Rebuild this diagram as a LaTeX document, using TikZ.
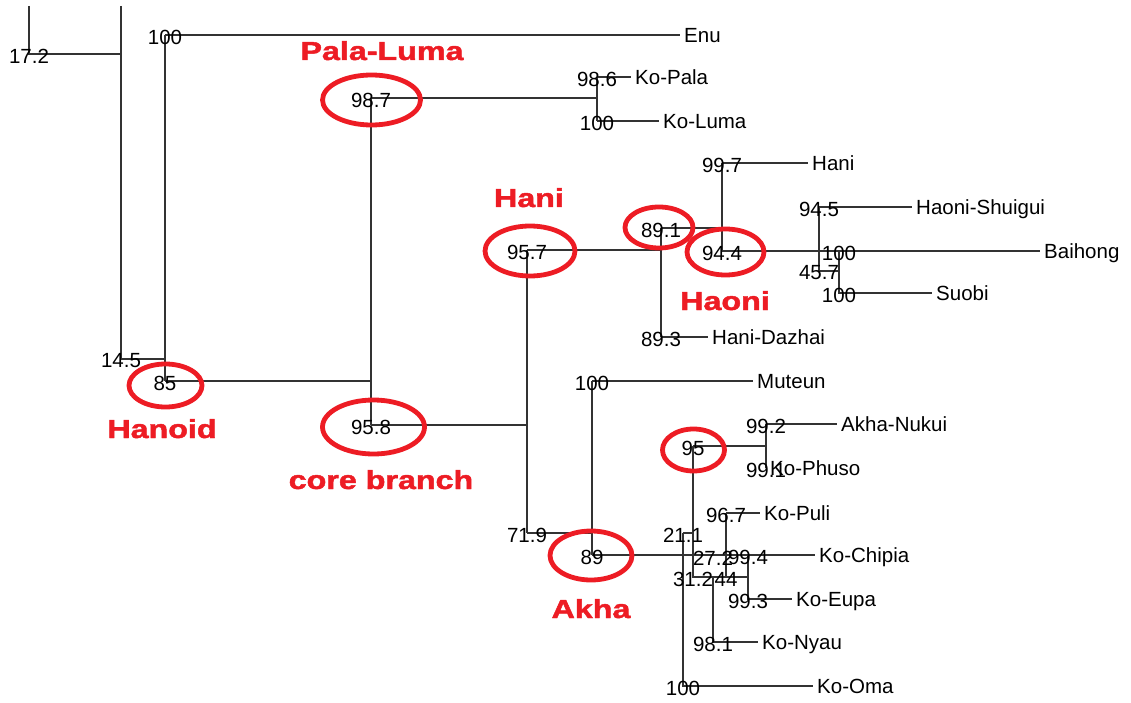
\documentclass[tikz,border=0pt]{standalone}
\usepackage{fontspec}
\setmainfont{Liberation Sans}
\newfontfamily\rfam[FakeBold=1.6]{Liberation Sans Bold}
\usetikzlibrary{shapes.geometric}
\definecolor{redc}{RGB}{237,28,36}
\newcommand{\lfont}{\fontsize{20.5}{24}\selectfont}
\newcommand{\rfont}{\rfam\fontsize{26}{30}\selectfont}
\newcommand{\rlab}[1]{\scalebox{1.24}[1]{#1}}
\begin{document}
\begin{tikzpicture}[x=1pt,y=-1pt,
  br/.style={line width=1.1pt, draw=black!80},
  num/.style={font=\lfont, inner sep=0pt, anchor=center, yshift=-2pt},
  leaf/.style={font=\lfont, inner sep=0pt, anchor=base west, xshift=4pt, yshift=-7.5pt},
  ring/.style={draw=redc, line width=4.8pt, ellipse, inner sep=0pt},
  rtext/.style={font=\rfont, text=redc, inner sep=0pt, anchor=base}
]
\useasboundingbox (0,0) rectangle (1131,703);
% ---- coordinates ----
\coordinate (t1) at (29,6);   \coordinate (n172) at (29,54);
\coordinate (t2) at (121,6);  \coordinate (j172) at (121,54);
\coordinate (n145) at (121,359); \coordinate (j145) at (165,359);
\coordinate (n100a) at (165,35); \coordinate (enu) at (680,35);
\coordinate (n85) at (165,381);  \coordinate (j85) at (371,381);
\coordinate (n987) at (371,98);  \coordinate (n958) at (371,425);
\coordinate (j987) at (597,98);  \coordinate (n986) at (597,77); \coordinate (n100b) at (597,121);
\coordinate (kopala) at (631,77); \coordinate (koluma) at (659,121);
\coordinate (j958) at (527,425); \coordinate (n957) at (527,250); \coordinate (n719) at (527,533);
\coordinate (j957) at (661,250); \coordinate (n891) at (661,228); \coordinate (n893) at (661,337);
\coordinate (dazhai) at (708,337);
\coordinate (j891) at (722,228); \coordinate (n997) at (722,163); \coordinate (n944) at (722,251);
\coordinate (hani) at (808,163);
\coordinate (j944) at (819,251); \coordinate (n945) at (819,207); \coordinate (n457) at (819,271);
\coordinate (shui) at (912,207); \coordinate (j457) at (839,271);
\coordinate (n100c) at (839,251); \coordinate (bai) at (1040,251);
\coordinate (n100d) at (839,293); \coordinate (suobi) at (932,293);
\coordinate (j719) at (592,533); \coordinate (n100m) at (592,381); \coordinate (muteun) at (753,381);
\coordinate (n89) at (592,555); \coordinate (j89) at (683,555); \coordinate (chipia) at (815,555);
\coordinate (n211) at (683,533); \coordinate (n100o) at (683,686); \coordinate (koma) at (813,686);
\coordinate (j211) at (693,533); \coordinate (n95) at (693,446); \coordinate (n312) at (693,577);
\coordinate (j95) at (766,446); \coordinate (n992) at (766,424); \coordinate (n991) at (766,468);
\coordinate (nukui) at (837,424);
\coordinate (n44) at (726,577); \coordinate (n967) at (726,513); \coordinate (puli) at (760,513);
\coordinate (j312) at (713,577); \coordinate (n981) at (713,642); \coordinate (nyau) at (758,642);
\coordinate (j44) at (748,577); \coordinate (n994) at (748,555); \coordinate (n993) at (748,599);
\coordinate (eupa) at (792,599);
\coordinate (n272) at (713,556);
% ---- branches ----
\draw[br] (t1) -- (n172) -- (j172);
\draw[br] (t2) -- (n145) -- (j145);
\draw[br] (n100a) -- (n85);
\draw[br] (n100a) -- (enu);
\draw[br] (n85) -- (j85);
\draw[br] (n987) -- (n958);
\draw[br] (n987) -- (j987);
\draw[br] (n986) -- (n100b);
\draw[br] (n986) -- (kopala);
\draw[br] (n100b) -- (koluma);
\draw[br] (n958) -- (j958);
\draw[br] (n957) -- (n719);
\draw[br] (n957) -- (j957);
\draw[br] (n891) -- (n893);
\draw[br] (n893) -- (dazhai);
\draw[br] (n891) -- (j891);
\draw[br] (n997) -- (n944);
\draw[br] (n997) -- (hani);
\draw[br] (n944) -- (bai);
\draw[br] (n945) -- (n457) -- (j457);
\draw[br] (n945) -- (shui);
\draw[br] (n100c) -- (n100d) -- (suobi);
\draw[br] (n719) -- (j719);
\draw[br] (n100m) -- (n89);
\draw[br] (n100m) -- (muteun);
\draw[br] (n89) -- (chipia);
\draw[br] (n211) -- (n100o) -- (koma);
\draw[br] (n211) -- (j211);
\draw[br] (n95) -- (n312) -- (j44);
\draw[br] (n95) -- (j95);
\draw[br] (n992) -- (n991);
\draw[br] (n992) -- (nukui);
\draw[br] (n967) -- (n44);
\draw[br] (n967) -- (puli);
\draw[br] (j312) -- (n981) -- (nyau);
\draw[br] (n994) -- (n993) -- (eupa);
% ---- support values ----
\node[num] at (n172) {17.2};
\node[num] at (n145) {14.5};
\node[num] at (n100a) {100};
\node[num] at (n85) {85};
\node[num] at (n987) {98.7};
\node[num] at (n958) {95.8};
\node[num] at (n986) {98.6};
\node[num] at (n100b) {100};
\node[num] at (n957) {95.7};
\node[num] at (n719) {71.9};
\node[num] at (n891) {89.1};
\node[num] at (n893) {89.3};
\node[num] at (n997) {99.7};
\node[num] at (n944) {94.4};
\node[num] at (n945) {94.5};
\node[num] at (n100c) {100};
\node[num] at (n457) {45.7};
\node[num] at (n100d) {100};
\node[num] at (n100m) {100};
\node[num] at (n89) {89};
\node[num] at (n95) {95};
\node[num] at (n992) {99.2};
\node[num] at (n991) {99.1};
\node[num] at (n967) {96.7};
\node[num] at (n211) {21.1};
\node[num] at (n272) {27.2};
\node[num] at (n994) {99.4};
\node[num] at (n312) {31.2};
\node[num] at (n44) {44};
\node[num] at (n993) {99.3};
\node[num] at (n981) {98.1};
\node[num] at (n100o) {100};
% ---- leaves ----
\node[leaf] (Lenu) at (enu) {Enu};
\node[leaf] (Lpala) at (kopala) {Ko-Pala};
\node[leaf] (Lluma) at (koluma) {Ko-Luma};
\node[leaf] (Lhani) at (hani) {Hani};
\node[leaf] (Lshui) at (shui) {Haoni-Shuigui};
\node[leaf] (Lbai) at (bai) {Baihong};
\node[leaf] (Lsuobi) at (suobi) {Suobi};
\node[leaf] (Ldazhai) at (dazhai) {Hani-Dazhai};
\node[leaf] (Lmuteun) at (muteun) {Muteun};
\node[leaf] (Lnukui) at (nukui) {Akha-Nukui};
\node[leaf, xshift=0pt] (Lphuso) at (n991) {Ko-Phuso};
\node[leaf] (Lpuli) at (puli) {Ko-Puli};
\node[leaf] (Lchipia) at (chipia) {Ko-Chipia};
\node[leaf] (Leupa) at (eupa) {Ko-Eupa};
\node[leaf] (Lnyau) at (nyau) {Ko-Nyau};
\node[leaf] (Loma) at (koma) {Ko-Oma};
% ---- red highlights ----
\node[ring, minimum width=98pt, minimum height=50pt] (e987) at (371.5,100) {};
\node[ring, minimum width=90pt, minimum height=50pt] (e957) at (530,251) {};
\node[ring, minimum width=68pt, minimum height=41pt] (e891) at (659,227.5) {};
\node[ring, minimum width=77pt, minimum height=46pt] (e944) at (725.5,252) {};
\node[ring, minimum width=73pt, minimum height=43pt] (e85) at (165.5,385.5) {};
\node[ring, minimum width=102pt, minimum height=54pt] (e958) at (373.5,427) {};
\node[ring, minimum width=62pt, minimum height=42pt] (e95) at (693.5,450) {};
\node[ring, minimum width=82pt, minimum height=49pt] (e89) at (591,555.5) {};
\node[rtext] (rpala) at (382,60) {\rlab{Pala-Luma}};
\node[rtext] (rhani) at (529,207) {\rlab{Hani}};
\node[rtext] (rhaoni) at (725,310) {\rlab{Haoni}};
\node[rtext] (rhanoid) at (162,438) {\rlab{Hanoid}};
\node[rtext] (rcore) at (381,489) {\rlab{core branch}};
\node[rtext] (rakha) at (591,618) {\rlab{Akha}};
\end{tikzpicture}
\end{document}
